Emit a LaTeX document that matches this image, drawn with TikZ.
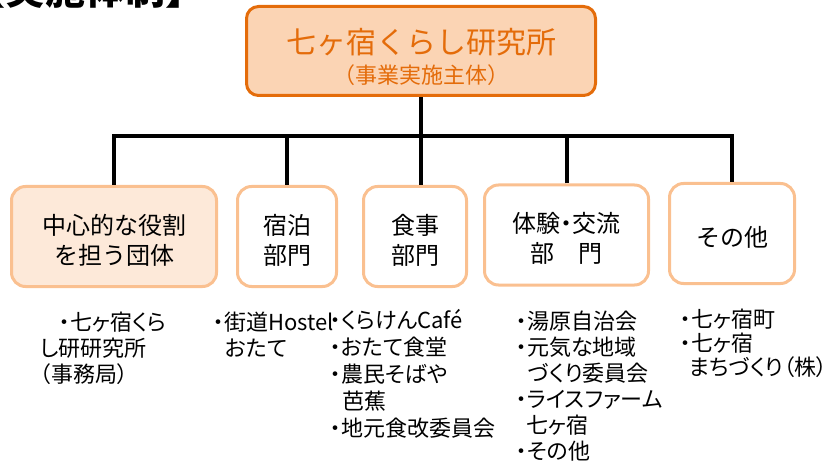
\documentclass[tikz,border=0pt]{standalone}
\usepackage{fontspec}
\setmainfont{Noto Sans CJK JP}
\newfontfamily\propfont[RawFeature=+palt]{Noto Sans CJK JP}
\usepackage{tikz}
\usepackage{xcolor}
\definecolor{headline}{HTML}{E46C0A}
\definecolor{headfill}{HTML}{FBD4B4}
\definecolor{unitline}{HTML}{FAC090}
\definecolor{unitfill}{HTML}{FDE9D9}
\newcommand{\lift}{\rule{0pt}{27pt}}

\begin{document}
\begin{tikzpicture}[x=1pt,y=-1pt,
		bar/.style={line width=4pt},
		unit/.style={draw=unitline, line width=3pt, rounded corners=14pt, fill=white, align=center, inner sep=0pt, minimum height=100pt, font=\fontsize{24}{30}\selectfont},
		members/.style={anchor=north west, align=left, inner sep=0pt, font=\propfont\fontsize{22}{26}\selectfont}]
				\useasboundingbox (0,0) rectangle (829,470);
				\node[anchor=base west, inner sep=0pt, font=\bfseries\fontsize{40}{40}\selectfont] at (-35,5) (T) {【実施体制】};
				\node[draw=headline, fill=headfill, text=headline, line width=3pt, rounded corners=12pt, minimum width=349pt, minimum height=89pt, align=center, inner sep=0pt, font=\fontsize{30}{30}\selectfont] at (421,51) (A) {\rule{0pt}{36.6pt}七ヶ宿くらし研究所\\{\fontsize{22}{30}\selectfont （事業実施主体）}};
				
				\node[unit, fill=unitfill, minimum width=205pt] at (114,236.5) (B) {\lift 中心的な役割\\を担う団体};
				\node[unit, minimum width=99pt] at (287,236.5) (C) {\lift 宿泊\\部門};
				\node[unit, minimum width=103pt] at (415,236.5) (D) {\lift 食事\\部門};
				\node[unit, minimum width=164pt] at (566.5,235) (E) {\lift 体験{\propfont ・}交流\\部　門};
				\node[unit, minimum width=125pt] at (732,233.5) (F) {\lift その他};
				
				\coordinate (bus) at (421,136);
				\draw[bar] (A.south) -- (A.south |- D.north);
				\draw[bar] (B.north) |- (bus) -| (F.north);
				\draw[bar] (C.north) -- (C.north |- bus);
				\draw[bar] (E.north) -- (E.north |- bus);
				
				\node[members] at (40,312) (P) {\hspace{19pt}・七ヶ宿くら\\し研研究所\\（事務局）};
				\node[members] at (213,312) (Q) {・街道Hostel\\\hspace{12pt}おたて};
				\node[members, font=\propfont\fontsize{22}{27}\selectfont] at (330,309) (R) {・くらけんCafé\\・おたて食堂\\・農民そばや\\\hspace{12pt}芭蕉\\・地元食改委員会};
				\node[members] at (516,311) (S) {・湯原自治会\\・元気な地域\\\hspace{12pt}づくり委員会\\・ライスファーム\\\hspace{10pt}七ヶ宿\\・その他};
				\node[members, font=\propfont\fontsize{22}{24}\selectfont] at (680,309) (U) {・七ヶ宿町\\・七ヶ宿\\\hspace{9pt}まちづくり（株）};
			\end{tikzpicture}
\end{document}
